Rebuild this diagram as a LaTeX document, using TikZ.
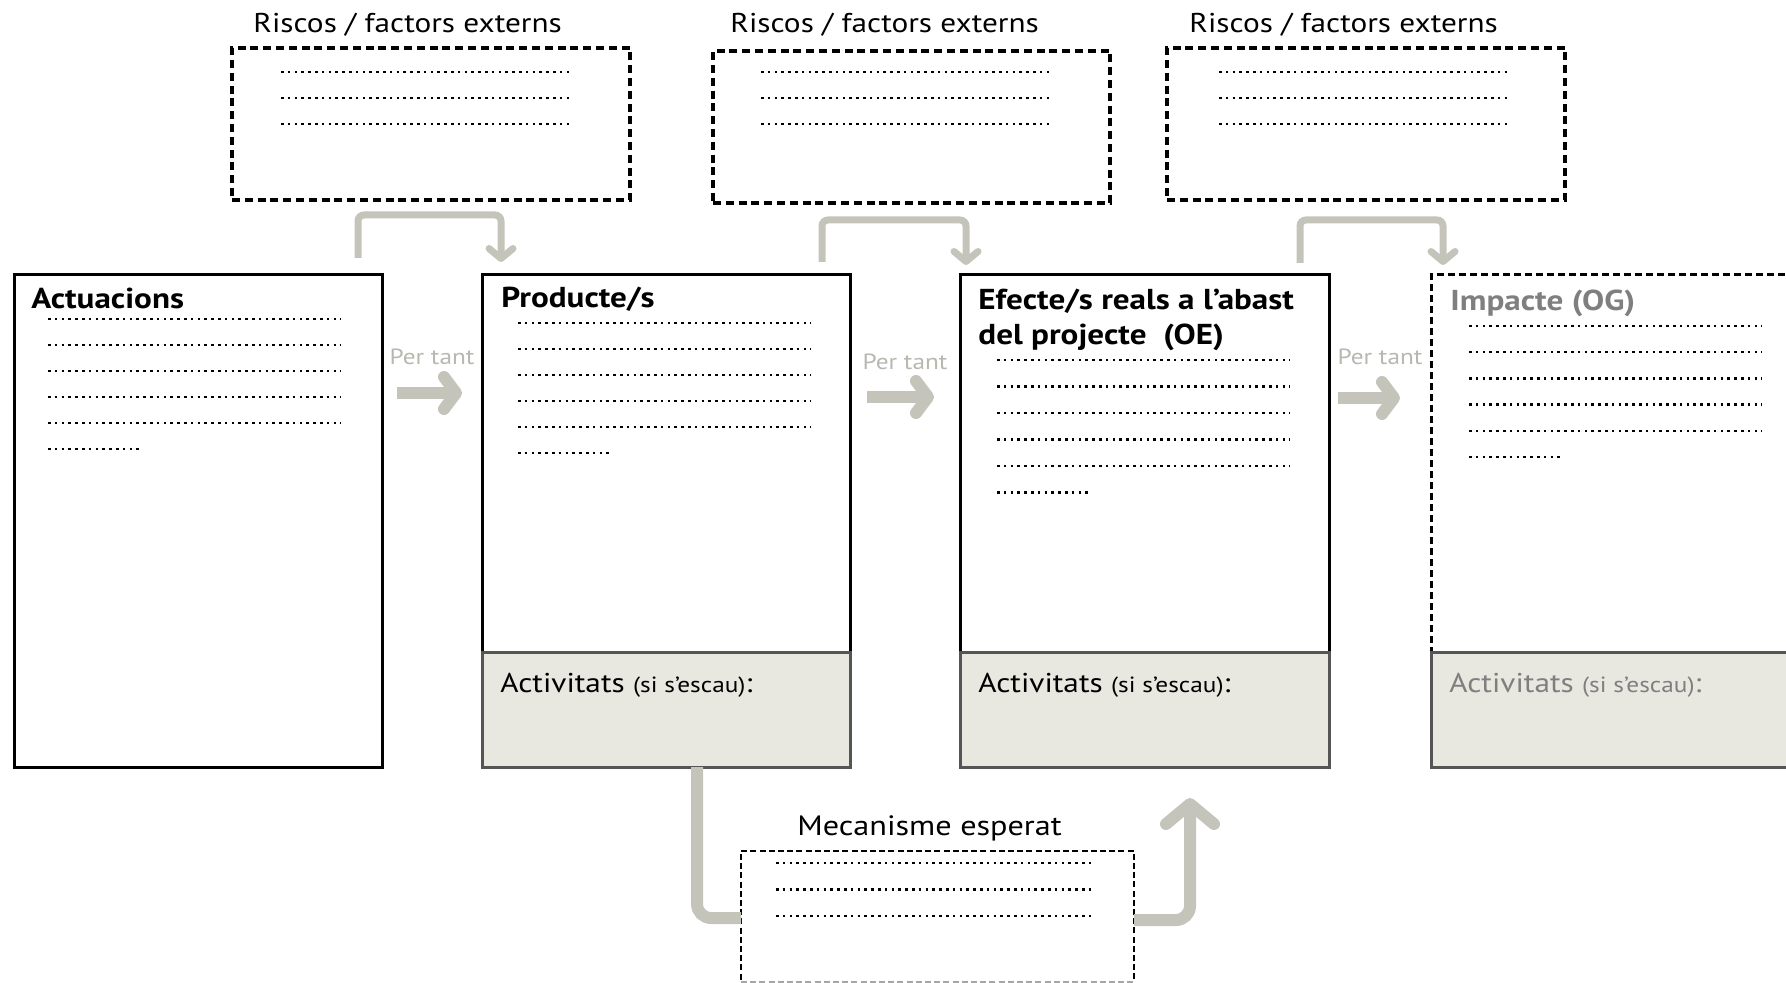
\documentclass[tikz,border=0pt]{standalone}
\usepackage{fontspec}
\setmainfont[FakeStretch=1.15]{PT Sans}
\usetikzlibrary{arrows.meta, calc}
\usetikzlibrary{positioning}

\definecolor{arrowgray}{HTML}{C4C4BA}
\definecolor{textgray}{HTML}{B8B8B0}
\definecolor{actfill}{HTML}{E8E8E1}
\definecolor{actline}{HTML}{555555}
\definecolor{impgray}{HTML}{7F7F7F}

\begin{document}
\begin{tikzpicture}[x=0.5pt, y=-0.5pt,
  box/.style={draw, line width=1.5pt, inner sep=0pt, outer sep=0pt, anchor=north west, minimum width=184pt},
  riskbox/.style={draw, line width=1.75pt, dash pattern=on 4pt off 2.4pt, inner sep=0pt, outer sep=0pt, anchor=north west, minimum width=199pt, minimum height=76pt},
  actbox/.style={box, draw=actline, fill=actfill, minimum height=57.5pt},
  head/.style={inner sep=0pt, anchor=base west, font=\fontsize{14.4}{17.5}\selectfont\bfseries, align=left},
  title/.style={inner sep=0pt, anchor=base west, font=\fontsize{13.6}{15}\selectfont},
  acttext/.style={inner sep=0pt, anchor=base west, font=\fontsize{13.6}{15}\selectfont},
  dots/.style={line width=1.25pt, dash pattern=on 1.25pt off 2.15pt},
  tant/.style={arrowgray, line width=6pt, -{Straight Barb[round, length=6pt, width=16pt]}},
  brk/.style={arrowgray, line width=3.5pt, rounded corners=3pt, -{Straight Barb[round, length=5pt, width=12pt]}},
  mech/.style={arrowgray, line width=6pt, rounded corners=7pt},
  tanttext/.style={textgray, inner sep=0pt, anchor=base, font=\fontsize{11}{13}\selectfont}]
\useasboundingbox (0,0) rectangle (1786,983);
\clip (0,0) rectangle (1786,983);

% risks on top
\node (r1) [riskbox] at (232,48) {};
\node (r2) [riskbox, minimum width=198.5pt] at (713,51) {};
\node (r3) [riskbox] at (1167,48) {};
\node (t1) [title] at ($(r1.north west)+(21,-15)$) {Riscos / factors externs};
\node (t2) [title] at ($(r2.north west)+(17,-18)$) {Riscos / factors externs};
\node (t3) [title] at ($(r3.north west)+(22,-15)$) {Riscos / factors externs};
\foreach \b/\dx/\dy in {r1/49/24, r2/48/21, r3/52/24}
  \foreach \k in {0,1,2}
    \draw[dots] ($(\b.north west)+(\dx,\dy+26*\k)$) -- ++(292,0);

% mecanisme box
\node (m1) [draw, line width=1pt, dash pattern=on 3pt off 1.6pt, inner sep=0pt, outer sep=0pt, anchor=north west, minimum width=196.5pt, minimum height=65.5pt] at (741,851) {};
\draw[white, line width=1.5pt] (m1.south west) -- (m1.south east);
\draw[black!35, line width=1pt, dash pattern=on 3pt off 1.6pt] (m1.south west) -- (m1.south east);

% main boxes
\node (b1) [box, minimum height=246pt] at (14,275) {};
\node (b2) [box, minimum height=188.5pt] at (482,275) {};
\node (a2) [actbox] at (b2.south west) {};
\node (b3) [box, minimum height=188.5pt, minimum width=184.5pt] at (960,275) {};
\node (a3) [actbox, minimum width=184.5pt] at (b3.south west) {};
\node (b4) [box, dash pattern=on 3.5pt off 2pt, minimum height=188.5pt] at (1431,275) {};
\node (a4) [actbox] at (b4.south west) {};

\node (h1) [head] at ($(b1.north west)+(17,34)$) {Actuacions};
\node (h2) [head] at ($(b2.north west)+(19,33)$) {Producte/s};
\node (h3) [head] at ($(b3.north west)+(18,70)$) {Efecte/s reals a l’abast\\del projecte\ \ (OE)};
\node (h4) [head, impgray] at ($(b4.north west)+(19,36)$) {Impacte (OG)};
\foreach \b/\dx/\dy/\s in {b1/34/44/26, b2/36/48/26, b3/37/85/26.5, b4/38/51/26.2} {
  \foreach \k in {0,...,4}
    \draw[dots] ($(\b.north west)+(\dx,\dy+\s*\k)$) -- ++(293,0);
  \draw[dots] ($(\b.north west)+(\dx,\dy+\s*5)$) -- ++(92,0);
}
\foreach \a/\c in {a2/black, a3/black, a4/impgray}
  \node (t\a) [acttext, \c] at ($(\a.north west)+(18,40)$) {Activitats {\fontsize{11}{12}\selectfont(si s’escau)}:};

% per tant
\node (p1) [tanttext] at ($(b1.north east)!0.5!(b2.north west)+(0,90)$) {Per tant};
\node (p2) [tanttext] at ($(b2.north east)!0.5!(b3.north west)+(0,95)$) {Per tant};
\node (p3) [tanttext] at ($(b3.north east)!0.5!(b4.north west)+(0,90)$) {Per tant};
\draw[tant] ($(b1.north east)+(15,118)$) -- ($(b2.north west)+(-20,118)$);
\draw[tant] ($(b2.north east)+(17,122)$) -- ($(b3.north west)+(-26,122)$);
\draw[tant] ($(b3.north east)+(9,123)$) -- ($(b4.north west)+(-31,123)$);

% brackets from the risks
\draw[brk] ($(b1.north east)+(-24,-17)$) |- ($(b2.north west)+(19,-60)$) -- ($(b2.north west)+(19,-13)$);
\draw[brk] ($(b2.north east)+(-28,-13)$) |- ($(b3.north west)+(6,-55)$) -- ($(b3.north west)+(6,-10)$);
\draw[brk] ($(b3.north east)+(-29,-12)$) |- ($(b4.north west)+(12,-55)$) -- ($(b4.north west)+(12,-10)$);

% mecanisme
\node (t4) [title, font=\fontsize{14}{15}\selectfont] at ($(m1.north west)+(56,-16)$) {Mecanisme esperat};
\foreach \k in {0,1,2}
  \draw[dots] ($(m1.north west)+(35,12+26.5*\k)$) -- ++(318,0);
\draw[mech] ($(a2.south west)+(215,0)$) |- ($(m1.north west)+(0,67)$);
\draw[mech, -{Straight Barb[round, length=10pt, width=24pt]}] ($(m1.north east)+(0,69)$) -| ($(a3.south west)+(230,31)$);
\end{tikzpicture}
\end{document}
